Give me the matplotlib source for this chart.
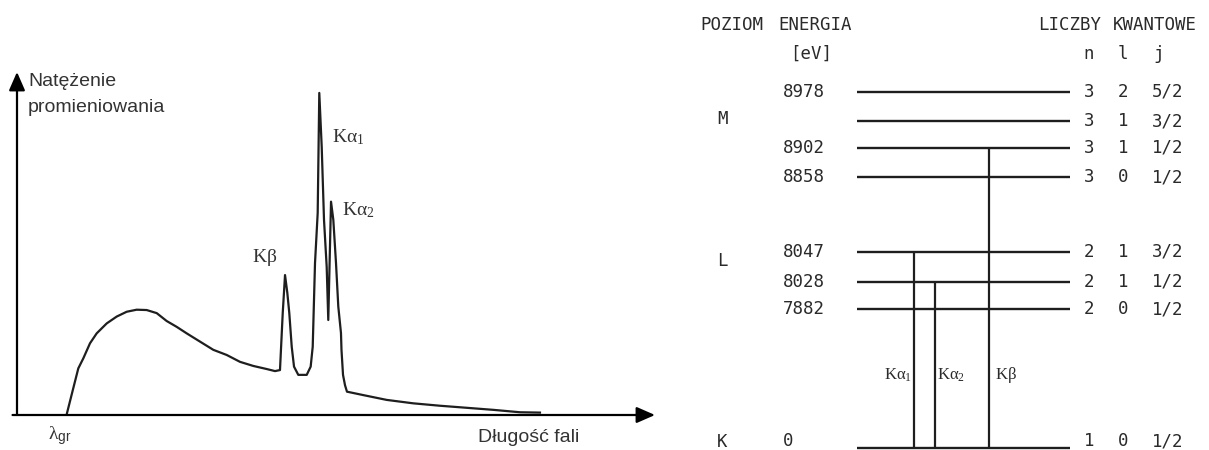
import matplotlib
matplotlib.use("Agg")
import matplotlib.pyplot as plt

plt.rcParams["mathtext.fontset"] = "custom"
plt.rcParams["mathtext.rm"] = "Liberation Serif"
plt.rcParams["mathtext.it"] = "Liberation Serif"
plt.rcParams["mathtext.bf"] = "Liberation Serif:bold"
plt.rcParams["mathtext.sf"] = "Liberation Sans"

# ---------------- data ----------------
# X-ray spectrum (arbitrary units: wavelength 0-100, intensity 0-100)
wavelength = [7.79, 8.82, 9.61, 10.39, 11.44, 12.49, 14.06, 15.63, 17.19, 18.76,
              20.33, 21.90, 23.46, 25.03, 26.60, 28.68, 30.77, 32.87, 34.95, 37.04,
              39.14, 40.44, 41.22, 41.65, 42.01, 42.37, 42.68, 43.06, 43.42, 44.09,
              45.41, 46.03, 46.35, 46.71, 47.13, 47.38, 47.76, 48.12, 48.54, 48.79,
              49.22, 49.58, 50.00, 50.36, 50.78, 50.86, 51.10, 51.41, 51.72, 54.28,
              57.95, 62.12, 66.30, 70.49, 74.66, 78.84, 81.97]
intensity = [0.2, 7.8, 13.6, 16.5, 20.9, 23.8, 26.7, 28.7, 30.1, 30.7,
             30.6, 29.7, 27.4, 25.7, 23.8, 21.4, 19.0, 17.5, 15.5, 14.3,
             13.4, 12.8, 13.1, 29.7, 40.8, 35.6, 29.7, 19.9, 14.1, 11.7,
             11.7, 14.1, 19.9, 44.3, 58.9, 93.9, 78.2, 56.9, 43.2, 27.7,
             62.2, 56.9, 44.3, 31.6, 23.9, 19.0, 11.7, 8.7, 6.8, 5.8,
             4.4, 3.4, 2.7, 2.1, 1.5, 0.8, 0.7]

# Energy-level diagram
level_energy = ["8978", "", "8902", "8858", "8047", "8028", "7882", "0"]
level_n = ["3", "3", "3", "3", "2", "2", "2", "1"]
level_l = ["2", "1", "1", "0", "1", "1", "0", "0"]
level_j = ["5/2", "3/2", "1/2", "1/2", "3/2", "1/2", "1/2", "1/2"]
shell_names = ["M", "L", "K"]
transition_from = [4, 5, 2]          # upper level index -> K level (index 7)
transition_labels = [r"$\mathrm{K\alpha_{1}}$", r"$\mathrm{K\alpha_{2}}$", r"$\mathrm{K\beta}$"]
peak_names = [r"$\mathrm{K\beta}$", r"$\mathrm{K\alpha_{1}}$", r"$\mathrm{K\alpha_{2}}$"]

# ---------------- layout ----------------
W, H = 1209, 450
fig = plt.figure(figsize=(W / 100, H / 100), dpi=100)
ink = "#1e1e1e"

def fx(x):
    return x / W

def fy(y):
    return 1 - y / H

# ---- left: spectrum ----
axL = fig.add_axes([fx(17), fy(415), (655 - 17) / W, (415 - 72) / H])
axL.set_xlim(0, 100)
axL.set_ylim(0, 100)
axL.axis("off")
axL.plot(wavelength, intensity, color=ink, lw=1.6, solid_joinstyle="round")
arrow_kw = dict(arrowstyle="-|>,head_length=0.8,head_width=0.35", color="black",
                lw=1.6, shrinkA=0, shrinkB=0, mutation_scale=14)
axL.annotate("", xy=(1.0, 0.0), xytext=(-0.007, 0.0), xycoords="axes fraction",
             textcoords="axes fraction", arrowprops=arrow_kw)
axL.annotate("", xy=(0.0, 1.0), xytext=(0.0, 0.0), xycoords="axes fraction",
             textcoords="axes fraction", arrowprops=arrow_kw)

sans = "Liberation Sans"
fig.text(fx(28), fy(82), "Natężenie", fontsize=14, family=sans, color="#333",
         va="center", ha="left")
fig.text(fx(28), fy(107), "promieniowania", fontsize=14, family=sans, color="#333",
         va="center", ha="left")
fig.text(fx(478), fy(437), "Długość fali", fontsize=14, family=sans, color="#333",
         va="center", ha="left")
fig.text(fx(48), fy(436), r"$\lambda_{\mathsf{gr}}$", fontsize=14, color="#333",
         va="center", ha="left")

peak_label_pos = [(252, 257), (332, 137), (342, 210)]
for (px, py), name in zip(peak_label_pos, peak_names):
    fig.text(fx(px), fy(py), name, fontsize=14, color="#333",
             va="center", ha="left")

# ---- right: energy levels ----
axR = fig.add_axes([fx(690), 0, (W - 690) / W, 1])
axR.set_xlim(690, W)
axR.set_ylim(H, 0)
axR.axis("off")

level_rows = [92, 121, 148, 177, 252, 282, 309, 448]
line_x0, line_x1 = 857, 1070
axR.hlines(level_rows, line_x0, line_x1, color=ink, lw=1.7)

trans_x = [914, 935, 989]
for idx, tx in zip(transition_from, trans_x):
    axR.vlines(tx, level_rows[idx], level_rows[-1], color=ink, lw=1.6)

mono = "DejaVu Sans Mono"
mfs = 12.5
tcol = "#2a2a2a"
axR.text(700, 25, "POZIOM", fontsize=mfs, family=mono, color=tcol, va="center")
axR.text(778, 25, "ENERGIA", fontsize=mfs, family=mono, color=tcol, va="center")
axR.text(1038, 25, "LICZBY", fontsize=mfs, family=mono, color=tcol, va="center")
axR.text(1113, 25, "KWANTOWE", fontsize=mfs, family=mono, color=tcol, va="center")
axR.text(790, 54, "[eV]", fontsize=mfs, family=mono, color=tcol, va="center")
for cx, s in zip([1089, 1123, 1159], ["n", "l", "j"]):
    axR.text(cx, 54, s, fontsize=mfs, family=mono, color=tcol, va="center", ha="center")

for row, e, n, l, j in zip(level_rows, level_energy, level_n, level_l, level_j):
    ty = min(row, 441)
    axR.text(783, ty, e, fontsize=mfs, family=mono, color=tcol, va="center")
    axR.text(1089, ty, n, fontsize=mfs, family=mono, color=tcol, va="center", ha="center")
    axR.text(1123, ty, l, fontsize=mfs, family=mono, color=tcol, va="center", ha="center")
    axR.text(1152, ty, j, fontsize=mfs, family=mono, color=tcol, va="center", ha="left")

for name, sy in zip(shell_names, [119, 261, 442]):
    axR.text(717, sy, name, fontsize=mfs, family=mono, color=tcol, va="center")

trans_label_pos = [(912, 375, "right"), (937, 375, "left"), (995, 375, "left")]
for (lx, ly, ha), lab in zip(trans_label_pos, transition_labels):
    axR.text(lx, ly, lab, fontsize=12, color=tcol, va="center", ha=ha)

fig.savefig("out.png", dpi=100, facecolor="white")
